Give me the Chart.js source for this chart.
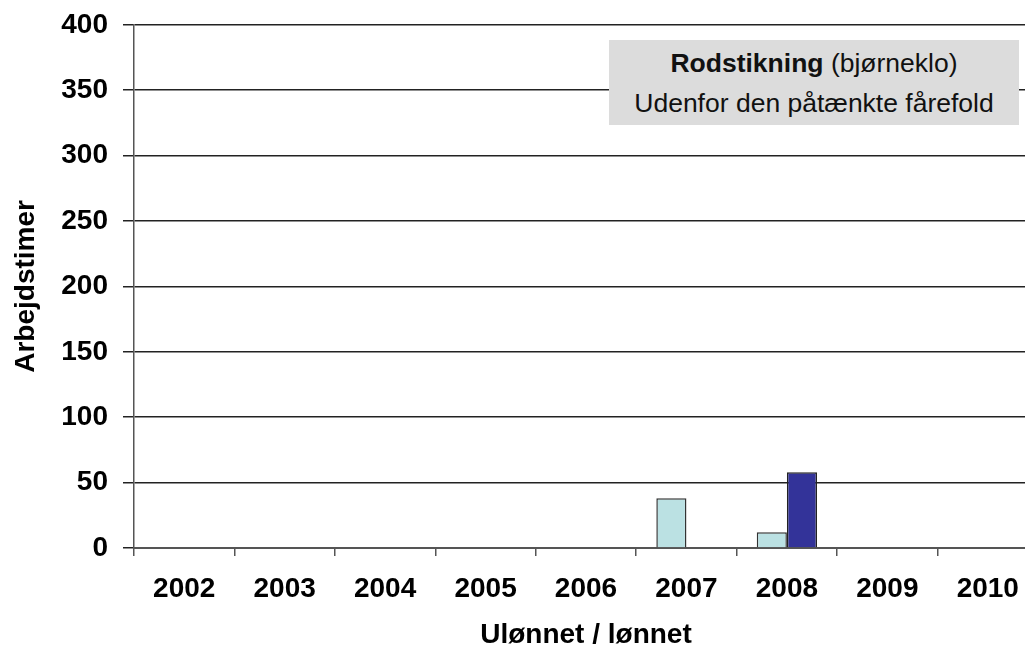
<!DOCTYPE html>
<html>
<head>
<meta charset="utf-8">
<script src="https://cdn.jsdelivr.net/npm/chart.js@4"></script>
<style>
  html, body { margin: 0; padding: 0; background: #fff; overflow: hidden; }
  #wrap { position: relative; width: 1040px; height: 656px; margin-top: -7px; }
  #note {
    position: absolute; left: 609px; top: 47px; width: 410px; height: 85px;
    background: #dcdcdc; font-family: "Liberation Sans", Arial, sans-serif;
    font-size: 26.5px; color: #111; text-align: center; line-height: 40px;
    padding-top: 3px; box-sizing: border-box;
  }
</style>
</head>
<body>
<div id="wrap">
  <canvas id="graf" width="1040" height="656"></canvas>
  <div id="note"><b>Rodstikning</b> (bjørneklo)<br>Udenfor den påtænkte fårefold</div>
</div>
<script>
// Arbejdstimer pr. år
const aar = ['2002', '2003', '2004', '2005', '2006', '2007', '2008', '2009', '2010'];
const ulonnet = [null, null, null, null, null, 38, 12, null, null];
const lonnet = [null, null, null, null, null, null, 58, null, null];
const yMin = 0, yMax = 400, yStep = 50;

const fontTekst = '"Liberation Sans", Arial, sans-serif';

const ctx = document.getElementById('graf').getContext('2d');
new Chart(ctx, {
    type: 'bar',
    data: {
        labels: aar,
        datasets: [
            { label: 'Ulønnet', data: ulonnet, backgroundColor: '#bbe1e3', borderColor: '#333', borderWidth: 1.5 },
            { label: 'Lønnet', data: lonnet, backgroundColor: '#333399', borderColor: '#222', borderWidth: 1.5 }
        ]
    },
    options: {
        responsive: false,
        animation: false,
        devicePixelRatio: 1,
        layout: { padding: { top: 18, right: 2, left: 0, bottom: 0 } },
        datasets: { bar: { categoryPercentage: 0.6, barPercentage: 1 } },
        plugins: {
            legend: { display: false },
            tooltip: { enabled: false }
        },
        scales: {
            x: {
                offset: true,
                grid: { offset: true, drawOnChartArea: false, tickLength: 8, color: '#555', lineWidth: 1.5 },
                border: { color: '#555', width: 2 },
                ticks: { color: '#000', font: { family: fontTekst, size: 28, weight: 'bold' }, padding: 16, maxRotation: 0 },
                title: { display: true, text: 'Ulønnet / lønnet', color: '#000',
                         font: { family: fontTekst, size: 28, weight: 'bold', lineHeight: 1 }, padding: { top: 0, bottom: 0 } },
                afterFit: scale => { scale.height = 101; }
            },
            y: {
                min: yMin, max: yMax,
                grid: { color: '#222', lineWidth: 1.5, tickLength: 11 },
                border: { color: '#555', width: 1.5 },
                ticks: { stepSize: yStep, color: '#000', padding: 15, font: { family: fontTekst, size: 28, weight: 'bold' } },
                title: { display: true, text: 'Arbejdstimer', color: '#000',
                         font: { family: fontTekst, size: 28, weight: 'bold' }, padding: { top: 9, bottom: 0 } },
                afterFit: scale => { scale.width = 134; }
            }
        }
    }
});
</script>
</body>
</html>
